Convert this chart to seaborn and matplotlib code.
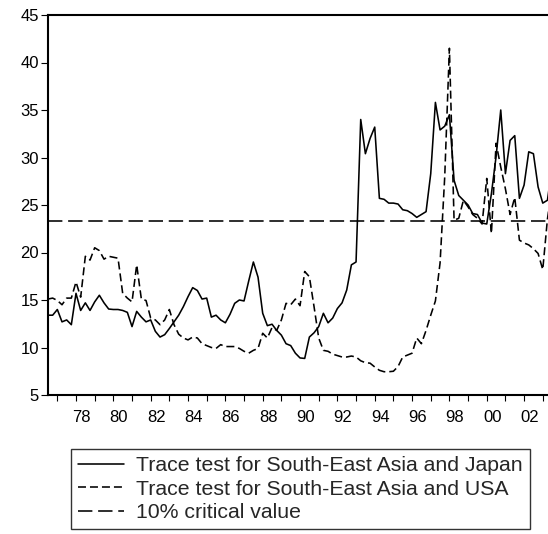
import numpy as np
import pandas as pd
import matplotlib
matplotlib.use('Agg')
import matplotlib.pyplot as plt
import seaborn as sns

# Quarterly trace statistics, 1976Q3 onwards (last value runs off the right edge)
START_QUARTER = '1976Q3'

trace_japan = [
    13.4, 13.4, 14.0, 12.7, 12.9, 12.4, 15.7, 13.9, 14.7, 13.9,
    14.8, 15.5, 14.7, 14.05, 14.0, 14.0, 13.9, 13.7, 12.2, 13.8,
    13.2, 12.7, 12.9, 11.7, 11.1, 11.35, 12.0, 12.7, 13.4, 14.3,
    15.35, 16.3, 16.0, 15.1, 15.2, 13.2, 13.4, 12.9, 12.6, 13.5,
    14.65, 15.0, 14.9, 17.0, 19.0, 17.4, 13.6, 12.3, 12.45, 11.8,
    11.3, 10.4, 10.2, 9.4, 8.9, 8.85, 11.1, 11.55, 12.2, 13.6,
    12.6, 13.1, 14.1, 14.7, 16.05, 18.7, 19.0, 34.0, 30.4, 32.0,
    33.2, 25.7, 25.6, 25.2, 25.2, 25.1, 24.5, 24.4, 24.1, 23.7,
    24.0, 24.3, 28.3, 35.8, 32.9, 33.3, 34.5, 27.6, 26.0, 25.5,
    25.0, 24.1, 24.0, 23.1, 23.0, 26.2, 30.1, 35.0, 28.3, 31.8,
    32.3, 25.7, 27.1, 30.6, 30.4, 26.9, 25.2, 25.5, 29.0,
]

trace_usa = [
    15.1, 15.2, 14.95, 14.5, 15.2, 15.2, 16.9, 15.3, 19.6, 19.2,
    20.5, 20.2, 19.3, 19.6, 19.5, 19.4, 15.7, 15.2, 14.8, 18.7,
    15.1, 14.95, 13.1, 12.9, 12.4, 12.9, 14.0, 12.4, 11.4, 11.0,
    10.8, 11.1, 11.0, 10.4, 10.2, 10.0, 9.9, 10.3, 10.1, 10.1,
    10.1, 9.9, 9.6, 9.4, 9.7, 9.9, 11.5, 11.0, 12.1, 11.8,
    12.9, 14.65, 14.5, 15.1, 14.4, 18.0, 17.45, 14.3, 11.0, 9.7,
    9.6, 9.3, 9.15, 9.0, 9.0, 9.1, 9.0, 8.6, 8.4, 8.35,
    7.95, 7.6, 7.45, 7.45, 7.5, 8.0, 9.0, 9.2, 9.4, 11.0,
    10.4, 11.8, 13.4, 14.9, 18.9, 28.0, 41.5, 23.4, 23.6, 25.5,
    24.8, 24.0, 23.6, 23.0, 27.8, 22.0, 31.5, 29.0, 26.7, 24.0,
    25.8, 21.3, 21.0, 20.8, 20.4, 19.9, 18.2, 23.5, 27.0,
]

CRIT_10 = 23.3

LABEL_JAPAN = 'Trace test for South-East Asia and Japan'
LABEL_USA = 'Trace test for South-East Asia and USA'
LABEL_CRIT = '10% critical value'

YEAR_TICKS = list(range(1977, 2004))
YEAR_LABELS = list(range(1978, 2003, 2))

quarters = pd.period_range(START_QUARTER, periods=len(trace_japan), freq='Q')
df = pd.DataFrame({
    'time': quarters.year + (quarters.quarter - 1) / 4,
    'japan': trace_japan,
    'usa': trace_usa,
})

sns.set_style('ticks')
plt.rcParams['font.family'] = ['Liberation Sans', 'DejaVu Sans']

fig = plt.figure(figsize=(5.48, 5.34), dpi=100)
# axes runs past the right edge, like the cropped original
ax = fig.add_axes([48 / 548, 139 / 534, 505 / 548, 380 / 534])

lw = 1.15
sns.lineplot(data=df, x='time', y='japan', ax=ax, color='black', lw=lw,
             label=LABEL_JAPAN)
sns.lineplot(data=df, x='time', y='usa', ax=ax, color='black', lw=lw,
             linestyle=(0, (5, 2.5)), label=LABEL_USA)
ax.axhline(CRIT_10, color='black', lw=lw, linestyle=(0, (9, 3.6)),
           label=LABEL_CRIT)

ax.set_xlim(1976.5, 1976.5 + 505 / 18.67)
ax.set_ylim(5, 45)
ax.set_yticks(range(5, 46, 5))
ax.set_xticks([y + 0.3 for y in YEAR_LABELS])
ax.set_xticklabels([f'{y % 100:02d}' for y in YEAR_LABELS])
ax.set_xticks(YEAR_TICKS, minor=True)
ax.set_xlabel('')
ax.set_ylabel('')

for side in ['left', 'bottom', 'top']:
    ax.spines[side].set_visible(True)
    ax.spines[side].set_linewidth(1.5)
    ax.spines[side].set_color('black')
ax.spines['right'].set_visible(False)

ax.tick_params(axis='y', which='major', direction='out', length=5, width=0.8,
               pad=1.5, labelsize=12, colors='black')
ax.tick_params(axis='x', which='major', length=0, pad=11, labelsize=12,
               colors='black')
ax.tick_params(axis='x', which='minor', direction='out', length=4, width=0.8,
               colors='black')

handles, labels = ax.get_legend_handles_labels()
ax.get_legend().remove()
leg = fig.legend(handles, labels, loc='upper left',
                 bbox_to_anchor=(71 / 548, 1 - 449 / 534), borderaxespad=0,
                 fontsize=15.3, frameon=True, fancybox=False, edgecolor='black',
                 handlelength=2.15, handletextpad=0.55, labelspacing=0.2,
                 borderpad=0.35)
leg.get_frame().set_linewidth(1.0)

fig.savefig('out.png', dpi=100)
plt.close(fig)
